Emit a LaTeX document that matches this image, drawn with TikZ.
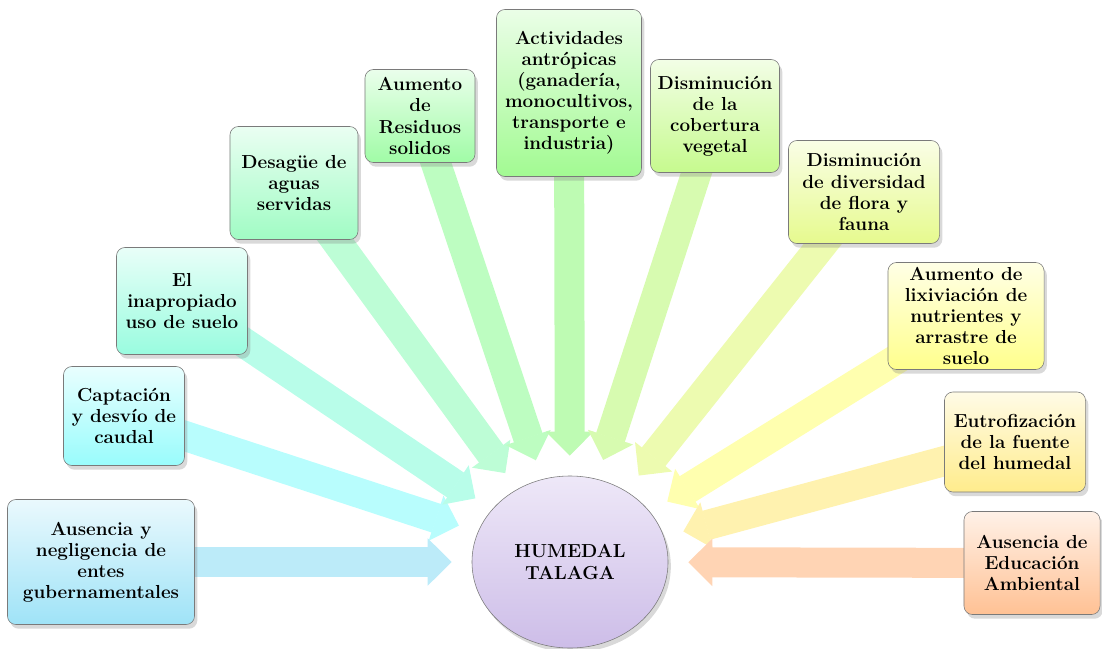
\documentclass[tikz,border=0pt]{standalone}
\usepackage{fontspec}
\usepackage{tikz}
\usetikzlibrary{arrows.meta,shapes.geometric,shadows,backgrounds}

\definecolor{boxborder}{HTML}{7A7A7A}
\definecolor{gobcol}{HTML}{9FE3F7}
\definecolor{capcol}{HTML}{99FCFC}
\definecolor{suelocol}{HTML}{99FCDF}
\definecolor{desagcol}{HTML}{A0FCC4}
\definecolor{residcol}{HTML}{A0FCA6}
\definecolor{activcol}{HTML}{A2FA92}
\definecolor{cobercol}{HTML}{C6FA8E}
\definecolor{diverscol}{HTML}{E6FA8E}
\definecolor{lixivcol}{HTML}{FFFF8C}
\definecolor{eutrocol}{HTML}{FFEC8C}
\definecolor{educcol}{HTML}{FFC194}
\definecolor{humtop}{HTML}{EEE8F8}
\definecolor{humbot}{HTML}{CDBDE8}

\begin{document}
\begin{tikzpicture}[x=0.025cm, y=-0.025cm,
  cause/.style={draw=boxborder, rounded corners=6pt, align=center,
                top color=#1!22!white, bottom color=#1, inner sep=1pt,
                font=\bfseries\fontsize{13.4}{15}\selectfont,
                drop shadow={opacity=0.3, shadow xshift=2pt, shadow yshift=-3pt}},
  center/.style={ellipse, draw=boxborder, align=center,
                 top color=humtop, bottom color=humbot,
                 minimum width=4.9cm, minimum height=4.3cm,
                 font=\bfseries\fontsize{13.4}{15}\selectfont,
                 drop shadow={opacity=0.3, shadow xshift=2pt, shadow yshift=-3pt}},
  arr/.style={-{Triangle[length=0.6cm, width=1.18cm, line width=1pt]},
              line width=0.75cm, draw=#1!70!white, shorten >=0.5cm}
]
  \useasboundingbox (0,0) rectangle (1102,649);

  \node[center] (hum) at (570,562) {HUMEDAL\\TALAGA};

  \node[cause=gobcol, minimum width=4.675cm, minimum height=3.125cm] (gob) at (101,562)
    {Ausencia y\\negligencia de\\entes\\gubernamentales};
  \node[cause=capcol, minimum width=3.025cm, minimum height=2.475cm] (cap) at (124,416)
    {Captación\\y desvío de\\caudal};
  \node[cause=suelocol, minimum width=3.275cm, minimum height=2.675cm] (suelo) at (182,301)
    {El\\inapropiado\\uso de suelo};
  \node[cause=desagcol, minimum width=3.2cm, minimum height=2.825cm] (desag) at (294,183)
    {Desagüe de\\aguas\\servidas};
  \node[cause=residcol, minimum width=2.75cm, minimum height=2.325cm] (resid) at (420,116)
    {Aumento\\de\\Residuos\\solidos};
  \node[cause=activcol, minimum width=3.625cm, minimum height=4.175cm] (activ) at (569,93)
    {Actividades\\antrópicas\\(ganadería,\\monocultivos,\\transporte e\\industria)};
  \node[cause=cobercol, minimum width=3.225cm, minimum height=2.825cm] (cober) at (715,116)
    {Disminución\\de la\\cobertura\\vegetal};
  \node[cause=diverscol, minimum width=3.775cm, minimum height=2.575cm] (divers) at (864,192)
    {Disminución\\de diversidad\\de flora y\\fauna};
  \node[cause=lixivcol, minimum width=3.9cm, minimum height=2.675cm] (lixiv) at (966,316)
    {Aumento de\\lixiviación de\\nutrientes y\\arrastre de\\suelo};
  \node[cause=eutrocol, minimum width=3.525cm, minimum height=2.5cm] (eutro) at (1015,442)
    {Eutrofización\\de la fuente\\del humedal};
  \node[cause=educcol, minimum width=3.4cm, minimum height=2.575cm] (educ) at (1032,563)
    {Ausencia de\\Educación\\Ambiental};

  % flechas hacia el humedal
  \begin{scope}[on background layer]
    \draw[arr=gobcol] (gob.center) -- (hum);
    \draw[arr=capcol] (cap.center) -- (hum);
    \draw[arr=suelocol] (suelo.center) -- (hum);
    \draw[arr=desagcol] (desag.center) -- (hum);
    \draw[arr=residcol] (resid.center) -- (hum);
    \draw[arr=activcol] (activ.center) -- (hum);
    \draw[arr=cobercol] (cober.center) -- (hum);
    \draw[arr=diverscol] (divers.center) -- (hum);
    \draw[arr=lixivcol] (lixiv.center) -- (hum);
    \draw[arr=eutrocol] (eutro.center) -- (hum);
    \draw[arr=educcol] (educ.center) -- (hum);
  \end{scope}

\end{tikzpicture}
\end{document}
